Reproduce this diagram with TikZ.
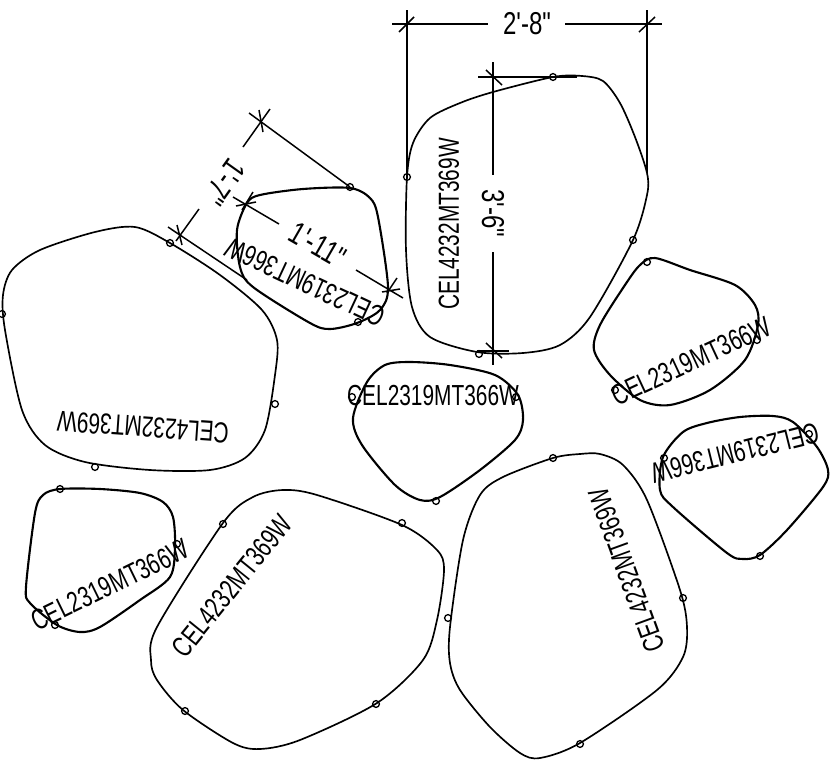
\documentclass[tikz,border=0pt]{standalone}
\usepackage{fontspec}
\newfontfamily\cadfont[FakeStretch=0.72]{Liberation Sans}
\newfontfamily\dimfont[FakeStretch=0.76]{Liberation Sans}
\tikzset{
    stone/.style={line width=0.95pt},
    heavystone/.style={line width=1.2pt},
    dimline/.style={line width=0.85pt},
    tag/.style={font=\cadfont\fontsize{16.5}{16.5}\selectfont, inner sep=0pt},
    dimtext/.style={font=\dimfont\fontsize{18}{18}\selectfont, inner sep=0pt}
}

\begin{document}
\begin{tikzpicture}[x=0.02cm, y=-0.02cm]
    \useasboundingbox (0, 0) rectangle (835, 761);

    % Wide dimension
    \coordinate (wideA) at (392, 24);
    \coordinate (wideB) at (488, 24);
    \coordinate (wideC) at (565, 24);
    \coordinate (wideD) at (662, 24);
    \coordinate (wideE) at (407, 10);
    \coordinate (wideF) at (407, 177);
    \coordinate (wideG) at (647, 10);
    \coordinate (wideH) at (647, 173);

    % Tall dimension
    \coordinate (tallA) at (493, 62);
    \coordinate (tallB) at (493, 175);
    \coordinate (tallC) at (493, 252);
    \coordinate (tallD) at (493, 365);
    \coordinate (tallE) at (478, 77);
    \coordinate (tallF) at (577, 77);
    \coordinate (tallG) at (477, 351);
    \coordinate (tallH) at (509, 351);

    % Slanted dimension, short
    \coordinate (shortA) at (270, 109);
    \coordinate (shortB) at (243, 147);
    \coordinate (shortC) at (199, 209);
    \coordinate (shortD) at (176, 241);
    \coordinate (shortE) at (249, 113);
    \coordinate (shortF) at (350, 187);
    \coordinate (shortG) at (168, 227);
    \coordinate (shortH) at (247, 280);

    % Slanted dimension, long
    \coordinate (longA) at (233, 197);
    \coordinate (longB) at (279, 224);
    \coordinate (longC) at (356, 270);
    \coordinate (longD) at (403, 298);
    \coordinate (longE) at (253, 192);
    \coordinate (longF) at (242, 210);
    \coordinate (longG) at (397, 278);
    \coordinate (longH) at (387, 293);

    % Draw
    \draw[stone] plot[smooth cycle, tension=0.5] coordinates {(553,77) (582,76) (603,81) (620,103) (635,137) (647,173) (647,195) (633,240) (590,317) (560,345) (523,353) (477,352) (430,337) (412,307) (406,250) (407,177) (413,143) (430,118) (460,103) (493,92)};
    \draw[heavystone] plot[smooth cycle, tension=0.5] coordinates {(247,203) (260,195) (303,189) (350,188) (370,198) (378,217) (388,287) (380,310) (357,323) (330,329) (310,323) (253,287) (240,267) (237,230)};
    \draw[stone] plot[smooth cycle, tension=0.5] coordinates {(135,227) (95,232) (40,250) (12,270) (3,295) (5,330) (22,410) (45,445) (85,462) (150,470) (210,470) (245,458) (265,430) (275,375) (277,340) (262,310) (220,275) (170,243)};
    \draw[heavystone] plot[smooth cycle, tension=0.5] coordinates {(410,362) (385,365) (367,382) (353,418) (362,445) (395,485) (420,500) (440,497) (480,470) (515,440) (523,420) (518,395) (495,375) (450,365)};
    \draw[heavystone] plot[smooth cycle, tension=0.5] coordinates {(655,258) (690,270) (735,285) (755,305) (758,325) (745,360) (710,390) (670,405) (640,400) (610,375) (594,350) (600,325) (625,285) (640,265)};
    \draw[stone] plot[smooth cycle, tension=0.5] coordinates {(553,458) (580,454) (600,454) (623,465) (647,500) (680,590) (687,627) (683,657) (657,690) (580,743) (540,758) (520,753) (490,727) (460,690) (450,663) (450,627) (463,540) (480,495) (503,477)};
    \draw[heavystone] plot[smooth cycle, tension=0.5] coordinates {(773,416) (793,422) (817,447) (828,470) (823,487) (787,530) (760,555) (743,559) (727,553) (673,507) (660,490) (663,457) (683,432) (707,423) (740,417)};
    \draw[heavystone] plot[smooth cycle, tension=0.5] coordinates {(60,489) (100,489) (140,493) (163,502) (173,517) (175,547) (170,577) (140,600) (100,627) (80,632) (57,625) (30,603) (26,587) (35,513) (43,495)};
    \draw[stone] plot[smooth cycle, tension=0.5] coordinates {(283,490) (317,495) (402,525) (437,550) (444,570) (437,620) (423,660) (377,703) (300,740) (260,749) (233,743) (183,710) (157,680) (151,660) (157,627) (223,523) (253,497)};

    % Insert points
    \foreach \px/\py in {407/177, 553/77, 633/240, 479/354, 350/187, 358/322, 170/243, 2/314, 275/404, 95/467, 436/501, 516/397, 352/397, 647/262, 615/390, 757/340, 553/458, 683/598, 580/744, 448/618, 760/556, 664/458, 809/434, 60/489, 177/544, 55/625, 223/524, 402/523, 376/704, 185/711}
        \draw[line width=0.75pt] (\px, \py) circle (3.4);

    % Dimensions
    \draw[dimline] (wideA) -- (wideB);
    \draw[dimline] (wideC) -- (wideD);
    \draw[dimline] (wideE) -- (wideF);
    \draw[dimline] (wideG) -- (wideH);
    \draw[dimline] (tallA) -- (tallB);
    \draw[dimline] (tallC) -- (tallD);
    \draw[dimline] (tallE) -- (tallF);
    \draw[dimline] (tallG) -- (tallH);
    \draw[dimline] (shortA) -- (shortB);
    \draw[dimline] (shortC) -- (shortD);
    \draw[dimline] (shortE) -- (shortF);
    \draw[dimline] (shortG) -- (shortH);
    \draw[dimline] (longA) -- (longB);
    \draw[dimline] (longC) -- (longD);
    \draw[dimline] (longE) -- (longF);
    \draw[dimline] (longG) -- (longH);

    % Ticks
    \foreach \ax/\ay/\bx/\by in {399/32/414/17, 639/32/655/17, 486/70/502/85, 486/343/502/358, 259/110/263/132, 177/225/182/245, 236/206/256/202, 382/292/400/289}
        \draw[dimline] (\ax, \ay) -- (\bx, \by);

    % Labeling
    \foreach \name/\x/\y/\angle/\txt in {tagA/449/224/90/CEL4232MT369W, tagB/305/282/155/CEL2319MT366W, tagC/143/427/176/CEL4232MT369W, tagD/433/396/0/CEL2319MT366W, tagE/691/361/25/CEL2319MT366W, tagF/627/570/110/CEL4232MT369W, tagG/735/453/194/CEL2319MT366W, tagH/110/585/26/CEL2319MT366W, tagI/232/586/51/CEL4232MT369W}
        \node[tag, rotate=\angle] (\name) at (\x, \y) {\txt};

    \node[dimtext] (wideText) at (527, 24) {2'-8"};
    \node[dimtext, rotate=-90] (tallText) at (493, 213) {3'-6"};
    \node[dimtext, rotate=234.6] (shortText) at (225, 182) {1'-7"};
    \node[dimtext, rotate=-30] (longText) at (318, 245) {1'-11"};
\end{tikzpicture}
\end{document}
